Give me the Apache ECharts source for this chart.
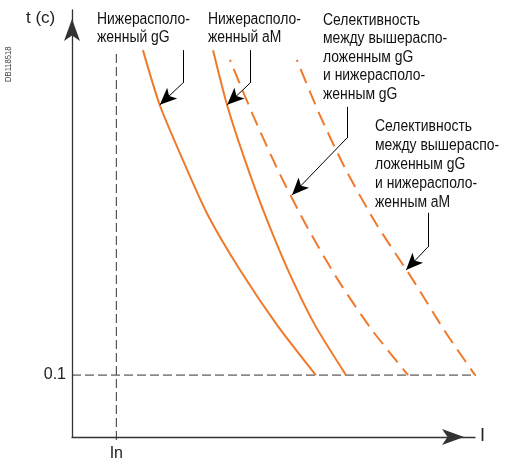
<!DOCTYPE html>
<html>
<head>
<meta charset="utf-8">
<script src="https://cdn.jsdelivr.net/npm/echarts@6/dist/echarts.min.js"></script>
<style>
  html, body { margin: 0; padding: 0; background: #fff; }
  #chart { width: 505px; height: 462px; }
</style>
</head>
<body>
<div id="chart"></div>
<script>
// relative units: I on x (0..100), t on y (0..100)
const inX = 11
const t01 = 14.5
const lowerGG = [[17.6, 90.6], [21.8, 77.7], [27.5, 64.9], [33.7, 52.0], [41.7, 39.1], [50.9, 26.2], [60.5, 14.5]]
const lowerAM = [[35.0, 90.6], [38.5, 77.7], [42.9, 64.9], [47.9, 52.0], [53.6, 39.1], [60.3, 26.2], [68.0, 14.5]]
const selGG = [[39.2, 88.3], [44.9, 75.4], [51.1, 62.5], [58.1, 49.6], [66.0, 36.8], [74.4, 25.1], [83.4, 14.5]]
const selAM = [[55.8, 88.3], [61.5, 75.4], [68.0, 62.5], [75.7, 49.6], [84.6, 36.8], [92.3, 25.1], [100, 14.5]]

// leader lines: [top, bend, tip]
const leaders = [
  [[27.5, 90.6], [27.5, 82.9], [21.8, 77.8]],
  [[44.2, 90.6], [44.2, 82.9], [38.5, 77.8]],
  [[68.2, 77.3], [68.2, 70.0], [54.6, 56.7]],
  [[88.3, 52.5], [88.3, 44.5], [82.9, 39.1]]
]

const orange = '#EF7A2C'
const dark = '#333'
const font = '"Liberation Sans", Arial, sans-serif'

const chart = echarts.init(document.getElementById('chart'))

const markData = []
leaders.forEach(l => {
  markData.push([{coord: l[0], symbol: 'none'}, {coord: l[1], symbol: 'none'}])
  markData.push([{coord: l[1], symbol: 'none'}, {coord: l[2], symbol: 'arrow', symbolSize: [11, 17]}])
})

function curve(data, dashed) {
  return {
    type: 'line',
    data: data,
    smooth: 0.25,
    showSymbol: false,
    silent: true,
    lineStyle: {color: orange, width: 2, type: dashed ? [15, 8] : 'solid', dashOffset: dashed ? 13 : 0}
  }
}

function note(x, y, text, lh) {
  return {
    type: 'text', x: x, y: y, scaleX: 0.87,
    style: {text: text, fontSize: 16, lineHeight: lh, fill: '#111', fontFamily: font, verticalAlign: 'top'}
  }
}

chart.setOption({
  animation: false,
  grid: {left: 72, top: 10, right: 30, bottom: 25},
  xAxis: {
    type: 'value', min: 0, max: 100,
    splitLine: {show: false},
    axisLine: {lineStyle: {color: dark, width: 1.3}, symbol: ['none', 'arrow'], symbolSize: [12, 22], symbolOffset: [0, -11]},
    axisTick: {show: false},
    axisLabel: {customValues: [inX], formatter: () => 'In', color: '#222', fontSize: 16, margin: 9, fontFamily: font}
  },
  yAxis: {
    type: 'value', min: 0, max: 100,
    splitLine: {show: false},
    axisLine: {show: true, lineStyle: {color: dark, width: 1.3}, symbol: ['none', 'arrow'], symbolSize: [12, 22], symbolOffset: [0, -9]},
    axisTick: {show: false},
    axisLabel: {customValues: [t01], formatter: () => '0.1', color: '#222', fontSize: 16, margin: 6, fontFamily: font}
  },
  graphic: [
    {type: 'text', left: 26, top: 10, style: {text: 't (c)', fontSize: 17, fill: '#222', fontFamily: font}},
    {type: 'text', left: 480, top: 427, style: {text: 'I', fontSize: 18, fill: '#222', fontFamily: font}},
    {type: 'text', x: 4, y: 82, rotation: Math.PI / 2, scaleX: 0.85, style: {text: 'DB118518', fontSize: 9, fill: '#444', fontFamily: font}},
    note(97, 11, 'Нижерасполо-\nженный gG', 18),
    note(208, 11, 'Нижерасполо-\nженный aM', 18),
    note(323, 11, 'Селективность\nмежду вышераспо-\nложенным gG\nи нижерасполо-\nженным gG', 18.5),
    note(375, 117, 'Селективность\nмежду вышераспо-\nложенным gG\nи нижерасполо-\nженным aM', 19)
  ],
  series: [
    {
      type: 'line', data: [[0, t01], [102, t01]], showSymbol: false, silent: true, clip: false,
      lineStyle: {color: dark, width: 1, type: [9, 4]}
    },
    {
      type: 'line', data: [[inX, -0.7], [inX, 90.6]], showSymbol: false, silent: true, clip: false,
      lineStyle: {color: dark, width: 1, type: [9, 4]},
      markLine: {silent: true, animation: false, label: {show: false}, lineStyle: {color: '#000', width: 1, type: 'solid'}, data: markData}
    },
    curve(lowerGG, false),
    curve(lowerAM, false),
    curve(selGG, true),
    curve(selAM, true)
  ]
})
</script>
</body>
</html>
